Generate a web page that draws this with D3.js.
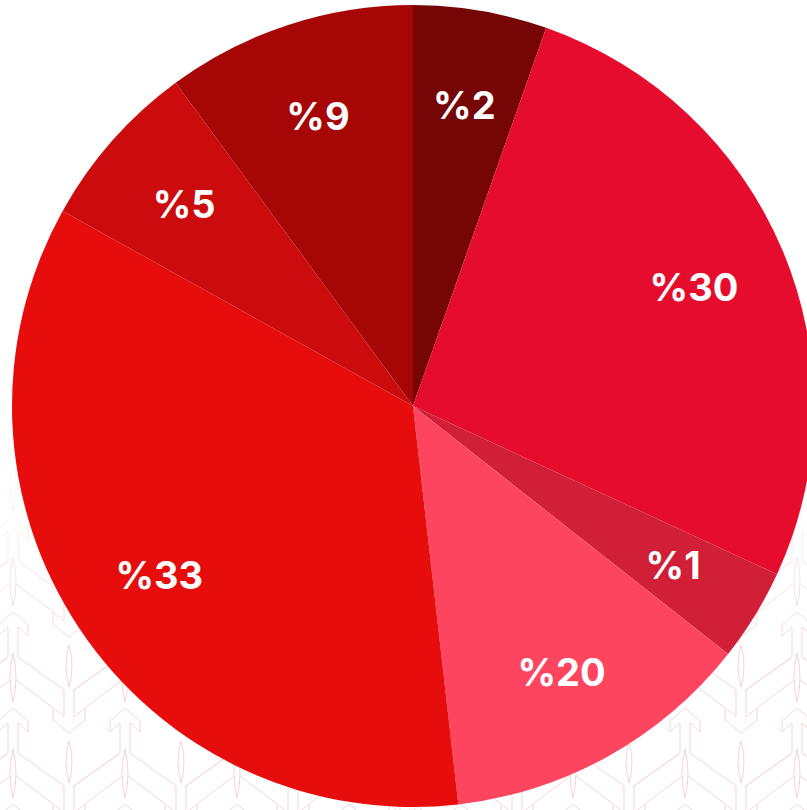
<!DOCTYPE html>
<html>
<head>
<meta charset="utf-8">
<script src="https://cdn.jsdelivr.net/npm/d3@7"></script>
<style>
  html, body { margin: 0; padding: 0; background: #ffffff; }
  svg { display: block; }
</style>
</head>
<body>
<svg id="chart" width="807" height="810"></svg>
<script>
// ---- data ----
const labels = ["%2", "%30", "%1", "%20", "%33", "%5", "%9"];
const values = [19.4, 95.4, 13.4, 45.3, 125.6, 24.6, 36.3]; // slice sizes as drawn
const colors = ["#760505", "#E60C2D", "#D11F37", "#FD4560", "#E80D0D", "#CC0C0C", "#A60606"];

const W = 807, H = 810;
const cx = 413, cy = 406, R = 401, labelR = 305;

const svg = d3.select("#chart");
const defs = svg.append("defs");

// ---- faint background feather/arrow pattern ----
const pat = defs.append("pattern")
  .attr("id", "feather")
  .attr("patternUnits", "userSpaceOnUse")
  .attr("x", 0).attr("y", 612)
  .attr("width", 112).attr("height", 96);

function motif(g) {
  const line = d3.line();
  const st = "#f5d3d6";
  const add = pts => g.append("path").attr("d", line(pts)).attr("fill", "none")
    .attr("stroke", st).attr("stroke-width", 1);
  // column A (up arrow) at x=13
  g.append("path").attr("d", "M13,41 Q19,66 13,90 Q7,66 13,41Z")
    .attr("fill", "none").attr("stroke", st).attr("stroke-width", 1);
  add([[8,111],[-2,120],[-2,109],[13,96],[28,109],[28,120],[18,111]]);
  add([[8,111-96],[8,45]]);
  add([[18,111-96],[18,45]]);
  add([[18,45],[64,78]]);
  add([[8,45],[-38,78]]);
  add([[16,68],[53,96]]);
  add([[10,68],[-27,96]]);
  // column B (down arrow) at x=69
  g.append("path").attr("d", "M69,33 Q75,54 69,75 Q63,54 69,33Z")
    .attr("fill", "none").attr("stroke", st).attr("stroke-width", 1);
  add([[64,105],[53,96],[53,108],[69,121],[85,108],[85,96],[74,105]]);
  add([[64,78],[64,105]]);
  add([[74,78],[74,105]]);
  add([[74,78],[120,45]]);
}
[-112, 0, 112].forEach(dx => [-96, 0, 96].forEach(dy => {
  motif(pat.append("g").attr("transform", `translate(${dx},${dy})`));
}));

const grad = defs.append("linearGradient")
  .attr("id", "fade").attr("gradientUnits", "userSpaceOnUse")
  .attr("x1", 0).attr("y1", 440).attr("x2", 0).attr("y2", 660);
grad.append("stop").attr("offset", 0).attr("stop-color", "#fff").attr("stop-opacity", 0);
grad.append("stop").attr("offset", 1).attr("stop-color", "#fff").attr("stop-opacity", 1);
defs.append("mask").attr("id", "fadeMask")
  .append("rect").attr("width", W).attr("height", H).attr("fill", "url(#fade)");

svg.append("rect").attr("width", W).attr("height", H)
  .attr("fill", "url(#feather)").attr("mask", "url(#fadeMask)");

// ---- pie ----
const pie = d3.pie().sort(null).value(d => d)
  .startAngle(0).endAngle(2 * Math.PI);
const arcs = pie(values);
const arc = d3.arc().innerRadius(0).outerRadius(R);
const labelArc = d3.arc().innerRadius(labelR).outerRadius(labelR);

const g = svg.append("g").attr("transform", `translate(${cx},${cy})`);

g.selectAll("path.slice").data(arcs).join("path")
  .attr("class", "slice")
  .attr("d", arc)
  .attr("fill", (d, i) => colors[i]);

g.selectAll("text.lbl").data(arcs).join("text")
  .attr("class", "lbl")
  .attr("transform", d => `translate(${labelArc.centroid(d)})`)
  .attr("text-anchor", "middle")
  .attr("dy", "0.36em")
  .attr("fill", "#ffffff")
  .attr("font-family", "Inter, Lato, sans-serif")
  .attr("font-weight", 700)
  .attr("font-size", 38)
  .text((d, i) => labels[i]);
</script>
</body>
</html>
